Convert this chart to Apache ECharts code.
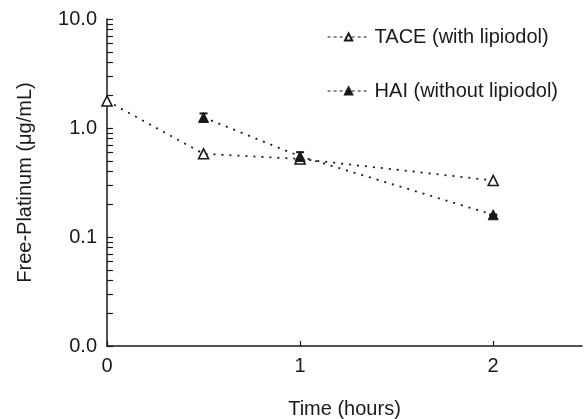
<!DOCTYPE html>
<html>
<head>
<meta charset="utf-8">
<script src="https://cdn.jsdelivr.net/npm/echarts@6/dist/echarts.min.js"></script>
<style>
html,body{margin:0;padding:0;background:#fff;}
#chart{width:584px;height:419px;}
</style>
</head>
<body>
<div id="chart"></div>
<script>
// Data
var seriesNames = ['TACE (with lipiodol)', 'HAI (without lipiodol)'];
var taceTimes = [0, 0.5, 1, 2];
var taceValues = [1.77, 0.58, 0.52, 0.33];
var haiTimes = [0.5, 1, 2];
var haiValues = [1.25, 0.55, 0.16];
var haiErrors = [0.11, 0.05, 0.0];
var xTickValues = [0, 1, 2];
var xTickLabels = ['0', '1', '2'];
var yLabelValues = [0.01, 0.1, 1, 10];
var yTickLabels = ['0.0', '0.1', '1.0', '10.0'];
var yTickValues = [0.01,0.02,0.03,0.04,0.05,0.06,0.07,0.08,0.09,
                   0.1,0.2,0.3,0.4,0.5,0.6,0.7,0.8,0.9,
                   1,2,3,4,5,6,7,8,9,10];

function pairs(xs, ys){ return xs.map(function(x,i){return [x, ys[i]];}); }

var FONT = 'Liberation Sans';
var INK = '#1a1a1a';
var chart = echarts.init(document.getElementById('chart'), null, {renderer:'canvas'});
chart.setOption({
  animation: false,
  backgroundColor: '#fff',
  textStyle: {fontFamily: FONT, color: INK},
  grid: {left: 107, right: 2, top: 19, bottom: 73, containLabel: false, outerBoundsMode: 'none'},
  legend: {
    orient: 'vertical',
    left: 322, top: 22,
    itemWidth: 42, itemHeight: 9, itemGap: 34,
    textStyle: {fontFamily: FONT, fontSize: 20, color: INK},
    data: [
      {name: seriesNames[0], lineStyle: {type: [3, 3], width: 1.2}},
      {name: seriesNames[1], lineStyle: {type: [3, 3], width: 1.2}}
    ]
  },
  xAxis: {
    type: 'value', min: 0, max: 2.46,
    name: 'Time (hours)', nameLocation: 'middle', nameGap: 53,
    nameTextStyle: {fontFamily: FONT, fontSize: 20, color: INK},
    axisLine: {lineStyle: {color: INK, width: 1.5}},
    axisTick: {inside: true, length: 5, customValues: xTickValues, lineStyle: {color: INK, width: 1.2}},
    axisLabel: {customValues: xTickValues, margin: 10, fontSize: 20, color: INK, fontFamily: FONT,
      formatter: function(v){ var i = xTickValues.indexOf(v); return i >= 0 ? xTickLabels[i] : ''; }},
    splitLine: {show: false}
  },
  yAxis: {
    type: 'log', logBase: 10, min: 0.01, max: 10,
    name: 'Free-Platinum (\u03bcg/mL)', nameLocation: 'middle', nameGap: 72,
    nameTextStyle: {fontFamily: FONT, fontSize: 20, color: INK},
    axisLine: {show: true, lineStyle: {color: INK, width: 1.5}},
    axisTick: {inside: true, length: 6, customValues: yTickValues, lineStyle: {color: INK, width: 1.2}},
    axisLabel: {customValues: yLabelValues, margin: 10, fontSize: 20, color: INK, fontFamily: FONT,
      formatter: function(v){
        for (var i = 0; i < yLabelValues.length; i++) {
          if (Math.abs(Math.log10(v) - Math.log10(yLabelValues[i])) < 1e-6) return yTickLabels[i];
        }
        return '';
      }},
    splitLine: {show: false}
  },
  series: [
    {
      name: seriesNames[0], type: 'line',
      data: pairs(taceTimes, taceValues),
      symbol: 'triangle', symbolSize: 10,
      lineStyle: {type: [2, 6], color: INK, width: 1.8},
      itemStyle: {color: '#fff', borderColor: INK, borderWidth: 1.6},
      z: 3
    },
    {
      name: seriesNames[1], type: 'line',
      data: pairs(haiTimes, haiValues),
      symbol: 'triangle', symbolSize: 10,
      lineStyle: {type: [2, 6], color: INK, width: 1.8},
      itemStyle: {color: INK, borderColor: INK, borderWidth: 1},
      z: 4
    },
    {
      name: 'HAI error', type: 'custom',
      data: haiTimes.map(function(t, i){ return [t, haiValues[i] - haiErrors[i], haiValues[i] + haiErrors[i]]; }),
      renderItem: function(params, api){
        var lo = api.coord([api.value(0), api.value(1)]);
        var hi = api.coord([api.value(0), api.value(2)]);
        var w = 4;
        return {
          type: 'group',
          children: [
            {type: 'line', shape: {x1: lo[0], y1: lo[1], x2: hi[0], y2: hi[1]}, style: {stroke: INK, lineWidth: 2}},
            {type: 'line', shape: {x1: hi[0]-w, y1: hi[1], x2: hi[0]+w, y2: hi[1]}, style: {stroke: INK, lineWidth: 2}},
            {type: 'line', shape: {x1: lo[0]-w, y1: lo[1], x2: lo[0]+w, y2: lo[1]}, style: {stroke: INK, lineWidth: 2}}
          ]
        };
      },
      z: 5
    }
  ]
});
</script>
</body>
</html>
